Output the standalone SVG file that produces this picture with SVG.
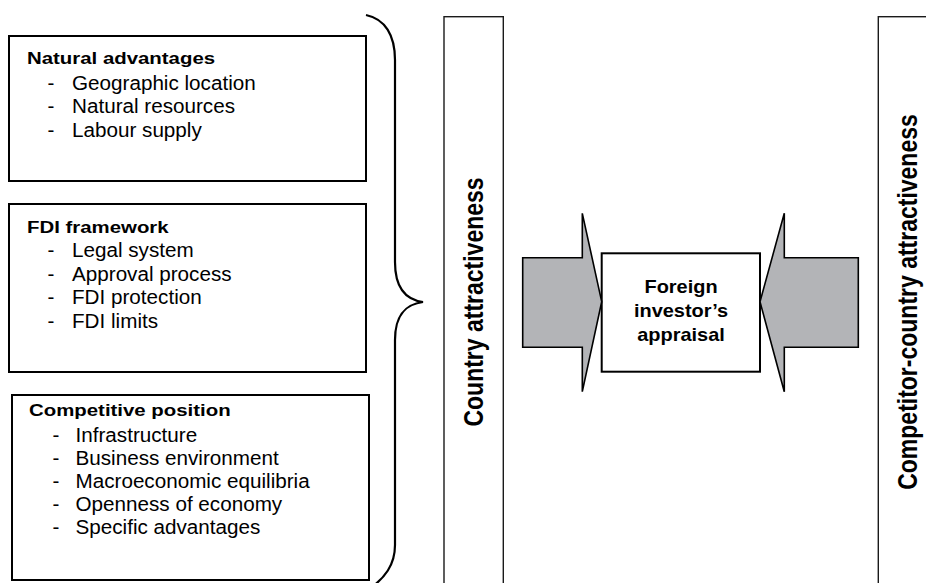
<svg xmlns="http://www.w3.org/2000/svg" width="926" height="583" viewBox="0 0 926 583">
  <style>
    text { font-family: "Liberation Sans", Arial, sans-serif; fill: #000; }
    .box { fill: #fff; stroke: #000; stroke-width: 2; }
    .col { fill: #fff; stroke: #1a1a1a; stroke-width: 1.4; }
    .arrow { fill: #b3b4b7; stroke: #000; stroke-width: 1.6; stroke-linejoin: miter; }
    .brace { fill: none; stroke: #000; stroke-width: 2.2; }
    .h { font-size: 17px; font-weight: bold; }
    .i { font-size: 19.5px; }
    .c { font-size: 19px; font-weight: bold; text-anchor: middle; }
    .v { font-size: 23px; font-weight: bold; text-anchor: middle; }
  </style>

  <!-- vertical attractiveness columns -->
  <g id="country-attractiveness">
    <rect class="col" x="444" y="16.7" width="59.3" height="600"/>
    <text class="v" transform="translate(483,302) scale(1.2,1) rotate(-90)">Country attractiveness</text>
  </g>
  <g id="competitor-attractiveness">
    <rect class="col" x="878.3" y="16.7" width="100" height="600"/>
    <text class="v" transform="translate(916.5,302) scale(1.2,1) rotate(-90)">Competitor-country attractiveness</text>
  </g>

  <!-- factor boxes -->
  <g id="natural-advantages">
    <rect class="box" x="9" y="36" width="357" height="145"/>
    <text class="h" transform="translate(27,64) scale(1.2,1)">Natural advantages</text>
    <text class="i" transform="translate(47.5,89.5) scale(1.06,1)">-</text>
    <text class="i" transform="translate(72,89.5) scale(1.06,1)">Geographic location</text>
    <text class="i" transform="translate(47.5,113) scale(1.06,1)">-</text>
    <text class="i" transform="translate(72,113) scale(1.06,1)">Natural resources</text>
    <text class="i" transform="translate(47.5,136.5) scale(1.06,1)">-</text>
    <text class="i" transform="translate(72,136.5) scale(1.06,1)">Labour supply</text>
  </g>

  <g id="fdi-framework">
    <rect class="box" x="9" y="204" width="357" height="168"/>
    <text class="h" transform="translate(27,232.5) scale(1.2,1)">FDI framework</text>
    <text class="i" transform="translate(47.5,257) scale(1.06,1)">-</text>
    <text class="i" transform="translate(72,257) scale(1.06,1)">Legal system</text>
    <text class="i" transform="translate(47.5,280.5) scale(1.06,1)">-</text>
    <text class="i" transform="translate(72,280.5) scale(1.06,1)">Approval process</text>
    <text class="i" transform="translate(47.5,304) scale(1.06,1)">-</text>
    <text class="i" transform="translate(72,304) scale(1.06,1)">FDI protection</text>
    <text class="i" transform="translate(47.5,327.5) scale(1.06,1)">-</text>
    <text class="i" transform="translate(72,327.5) scale(1.06,1)">FDI limits</text>
  </g>

  <g id="competitive-position">
    <rect class="box" x="12" y="395" width="357" height="185"/>
    <text class="h" transform="translate(29,416) scale(1.2,1)">Competitive position</text>
    <text class="i" transform="translate(52.5,441.5) scale(1.06,1)">-</text>
    <text class="i" transform="translate(75.5,441.5) scale(1.06,1)">Infrastructure</text>
    <text class="i" transform="translate(52.5,464.5) scale(1.06,1)">-</text>
    <text class="i" transform="translate(75.5,464.5) scale(1.06,1)">Business environment</text>
    <text class="i" transform="translate(52.5,487.5) scale(1.06,1)">-</text>
    <text class="i" transform="translate(75.5,487.5) scale(1.06,1)">Macroeconomic equilibria</text>
    <text class="i" transform="translate(52.5,510.5) scale(1.06,1)">-</text>
    <text class="i" transform="translate(75.5,510.5) scale(1.06,1)">Openness of economy</text>
    <text class="i" transform="translate(52.5,534) scale(1.06,1)">-</text>
    <text class="i" transform="translate(75.5,534) scale(1.06,1)">Specific advantages</text>
  </g>

  <!-- central appraisal box -->
  <g id="appraisal">
    <rect class="box" x="601.7" y="253.3" width="158.3" height="118.4"/>
    <text class="c" transform="translate(681,292.5) scale(1.05,1)">Foreign</text>
    <text class="c" transform="translate(681,317) scale(1.05,1)">investor’s</text>
    <text class="c" transform="translate(681,341) scale(1.05,1)">appraisal</text>
  </g>

  <!-- connectors: brace and the two block arrows -->
  <g id="connectors">
    <path class="brace" d="M366,15 C385,19 395,35 395,60 L395,262 C395,290 408,300 423,302 C408,304 395,312 395,340 L395,545 C395,565 385,578 368,590"/>
    <polygon class="arrow" points="522.7,257.7 582.3,257.7 582.3,213.3 601.7,301.7 582.3,391.7 582.3,347.3 522.7,347.3"/>
    <polygon class="arrow" points="858.3,257.7 784.3,257.7 784.3,213.3 760,301.7 784.3,391.7 784.3,347.3 858.3,347.3"/>
  </g>
</svg>
